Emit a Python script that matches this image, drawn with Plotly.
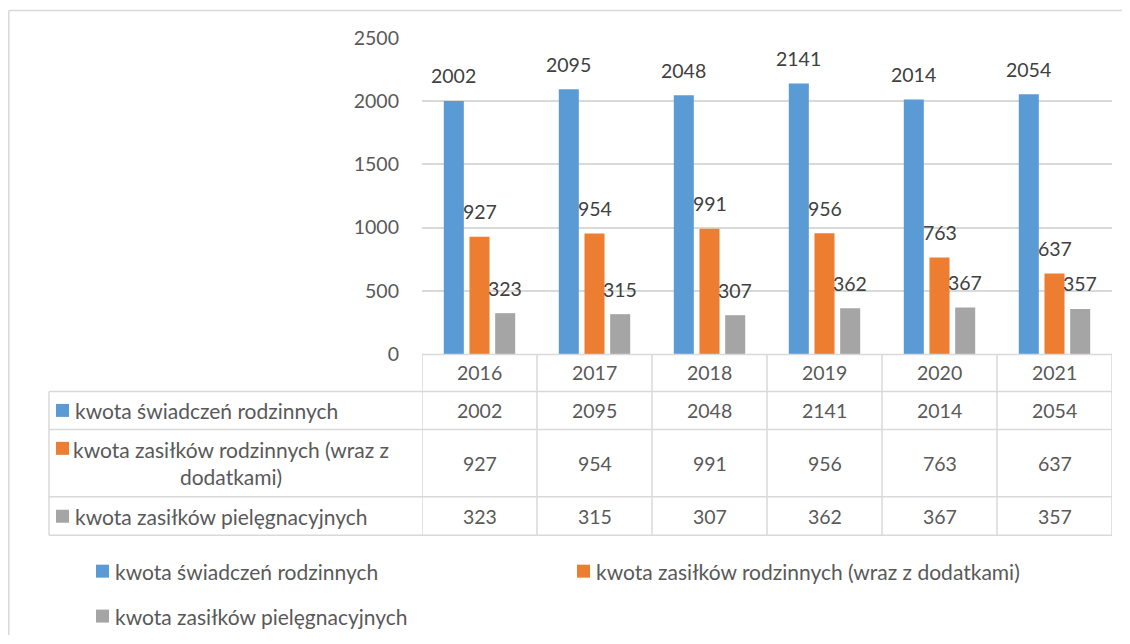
import plotly.graph_objects as go

years = ["2016", "2017", "2018", "2019", "2020", "2021"]
series_names = [
    "kwota świadczeń rodzinnych",
    "kwota zasiłków rodzinnych (wraz z dodatkami)",
    "kwota zasiłków pielęgnacyjnych",
]
swiadczenia = [2002, 2095, 2048, 2141, 2014, 2054]
zasilki_rodzinne = [927, 954, 991, 956, 763, 637]
zasilki_pielegnacyjne = [323, 315, 307, 362, 367, 357]
y_ticks = [0, 500, 1000, 1500, 2000, 2500]

values = [swiadczenia, zasilki_rodzinne, zasilki_pielegnacyjne]
colors = ["#5B9BD5", "#ED7D31", "#A5A5A5"]

OFF = 8  # page body margin
W, H = 1130 - 2 * OFF, 644 - 2 * OFF
PLOT_L, PLOT_R, PLOT_T, PLOT_B = 422, 1112, 38, 354.5  # screen pixels
L = PLOT_L - OFF
T = PLOT_T - OFF
R = W - (PLOT_R - OFF)
B = H - (PLOT_B - OFF)
PW, PH = W - L - R, H - T - B
FONT = "Lato"
FS_NUM = 19.5
FS_TXT = 21
TXT = "#595959"
LBL = "#404040"
GRID = "#D9D9D9"


def xp(px):
    return (px - OFF - L) / PW


def yp(py):
    return (H - B - (py - OFF)) / PH


fig = go.Figure()
for name, vals, col in zip(series_names, values, colors):
    fig.add_trace(go.Bar(x=years, y=vals, name=name, marker=dict(color=col, line=dict(width=0)),
                         showlegend=False))

ann = []
shapes = []

# data labels above bars
slot = 25.7
for i, vals in enumerate(values):
    for j, v in enumerate(vals):
        ann.append(dict(x=j, y=v, xref="x", yref="y", text=str(v), showarrow=False,
                        xshift=(i - 1) * slot, yshift=25, xanchor="center", yanchor="middle",
                        font=dict(family=FONT, size=FS_NUM, color=LBL)))

# table lines
line = dict(color=GRID, width=1.5)
row_tops = [355, 392, 430, 497.5, 536]
for k, py in enumerate(row_tops):
    x0 = xp(422) if k == 0 else xp(49)
    shapes.append(dict(type="line", xref="paper", yref="paper", x0=x0, x1=xp(1112),
                       y0=yp(py), y1=yp(py), line=line, layer="above"))
for k in range(len(years) + 1):
    shapes.append(dict(type="line", xref="x", yref="paper", x0=k - 0.5, x1=k - 0.5,
                       y0=yp(355), y1=yp(536), line=line, layer="above"))
shapes.append(dict(type="line", xref="paper", yref="paper", x0=xp(49), x1=xp(49),
                   y0=yp(392), y1=yp(536), line=line, layer="above"))

# header and values
row_centers = [411, 464, 517]
for j, yr in enumerate(years):
    ann.append(dict(x=j, y=yp(373.5), xref="x", yref="paper", text=yr, showarrow=False,
                    xanchor="center", yanchor="middle",
                    font=dict(family=FONT, size=FS_NUM, color=TXT)))
for r, vals in enumerate(values):
    for j, v in enumerate(vals):
        ann.append(dict(x=j, y=yp(row_centers[r]), xref="x", yref="paper", text=str(v),
                        showarrow=False, xanchor="center", yanchor="middle",
                        font=dict(family=FONT, size=FS_NUM, color=TXT)))


def marker(px, py, col):
    shapes.append(dict(type="rect", xref="paper", yref="paper", x0=xp(px), x1=xp(px + 13),
                       y0=yp(py - 6.5), y1=yp(py + 6.5), fillcolor=col,
                       line=dict(width=0), layer="above"))


def text(px, py, s, xanchor="left"):
    ann.append(dict(x=xp(px), y=yp(py), xref="paper", yref="paper", text=s,
                    showarrow=False, xanchor=xanchor, yanchor="middle", align="center",
                    font=dict(family=FONT, size=FS_TXT, color=TXT)))


# row labels with markers
marker(56, 411, colors[0])
text(73, 411, series_names[0])
marker(56, 449, colors[1])
words = series_names[1].split(" ")
text(230.5, 464, " ".join(words[:-1]) + "<br>" + words[-1], xanchor="center")
marker(56, 517, colors[2])
text(73, 517, series_names[2])

# legend (bottom)
leg_pos = [(96, 572), (577, 572), (96, 617)]
for (px, py), name, col in zip(leg_pos, series_names, colors):
    marker(px, py, col)
    text(px + 17, py, name)

# outer border (only left and top edges visible in the crop)
border = dict(color=GRID, width=1.5)
shapes.append(dict(type="line", xref="paper", yref="paper", x0=xp(8.8), x1=xp(1122),
                   y0=yp(10.5), y1=yp(10.5), line=border, layer="below"))
shapes.append(dict(type="line", xref="paper", yref="paper", x0=xp(8.8), x1=xp(8.8),
                   y0=yp(10.5), y1=yp(636), line=border, layer="below"))

fig.update_layout(
    width=W, height=H,
    margin=dict(l=L, r=R, t=T, b=B, autoexpand=False),
    paper_bgcolor="white", plot_bgcolor="white",
    barmode="group", bargap=0.33, bargroupgap=0.22,
    font=dict(family=FONT, size=FS_NUM, color=TXT),
    xaxis=dict(type="category", range=[-0.5, 5.5], showticklabels=False, showgrid=False,
               zeroline=False, showline=False, fixedrange=True),
    yaxis=dict(range=[0, 2500], tickvals=y_ticks, showgrid=True, gridcolor=GRID, gridwidth=1.5,
               zeroline=False, showline=False, ticks="", ticklabelstandoff=22,
               tickfont=dict(family=FONT, size=FS_NUM, color=TXT)),
    annotations=ann, shapes=shapes, showlegend=False,
)

fig.write_html("out.html")
